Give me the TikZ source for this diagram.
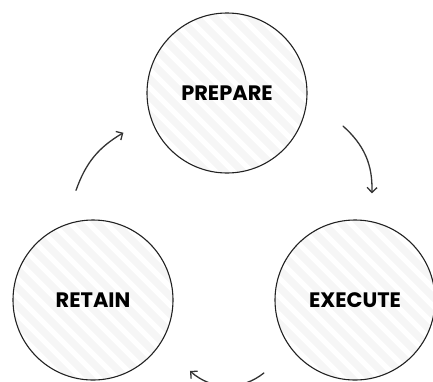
\documentclass[tikz,border=0pt]{standalone}
\usepackage{fontspec}
\usepackage{tikz}
\usetikzlibrary{calc}
\usetikzlibrary{arrows.meta}
\newfontfamily\stagefont{Poppins}
\definecolor{qqqqqq}{rgb}{0.13,0.13,0.13}
\definecolor{sqsqsq}{rgb}{0.2,0.2,0.2}
\definecolor{xfxfxf}{rgb}{0.965,0.965,0.965}
\tikzset{
  stage/.style={circle,draw=qqqqqq,line width=1.1pt,fill=xfxfxf,minimum size=160bp,inner sep=0pt,
    font=\stagefont\bfseries\fontsize{21}{24}\selectfont,
    path picture={\foreach \k in {-16,...,16}
      \draw[white,line width=5bp] ([shift={(\k*9bp,\k*9bp)}]path picture bounding box.center) +(-130bp,130bp) -- +(130bp,-130bp);}},
  cyclearrow/.style={->,line width=1.3pt,color=sqsqsq}
}

\begin{document}
\begin{tikzpicture}[line cap=round,line join=round,>={Straight Barb[length=5pt,width=10pt]},x=1bp,y=1bp]
            \useasboundingbox (0,0) rectangle (433,381);
            \clip (0,0) rectangle (433,381);
            % the three stages
            \node[stage] (prepare) at (227,288) {PREPARE};
            \node[stage] (retain) at (93,81) {RETAIN};
            \node[stage] (execute) at (355,81) {EXECUTE};
            % arrow ends, just off the circles
            \coordinate (retain out) at ($(retain.center)+(98.8:111)$);
            \coordinate (prepare in) at ($(prepare.center)+(201:111)$);
            \coordinate (prepare out) at ($(prepare.center)+(-15.9:120.6)$);
            \coordinate (execute in) at ($(execute.center)+(81:108)$);
            \coordinate (execute out) at ($(execute.center)+(218.7:116.7)$);
            \coordinate (retain in) at ($(retain.center)+(-36.2:120.2)$);
            \draw[cyclearrow] (retain out) to[bend left=20] (prepare in);
            \draw[cyclearrow] (prepare out) to[bend left=25] (execute in);
            \draw[cyclearrow] (execute out) to[bend left=40] (retain in);
\end{tikzpicture}
\end{document}
